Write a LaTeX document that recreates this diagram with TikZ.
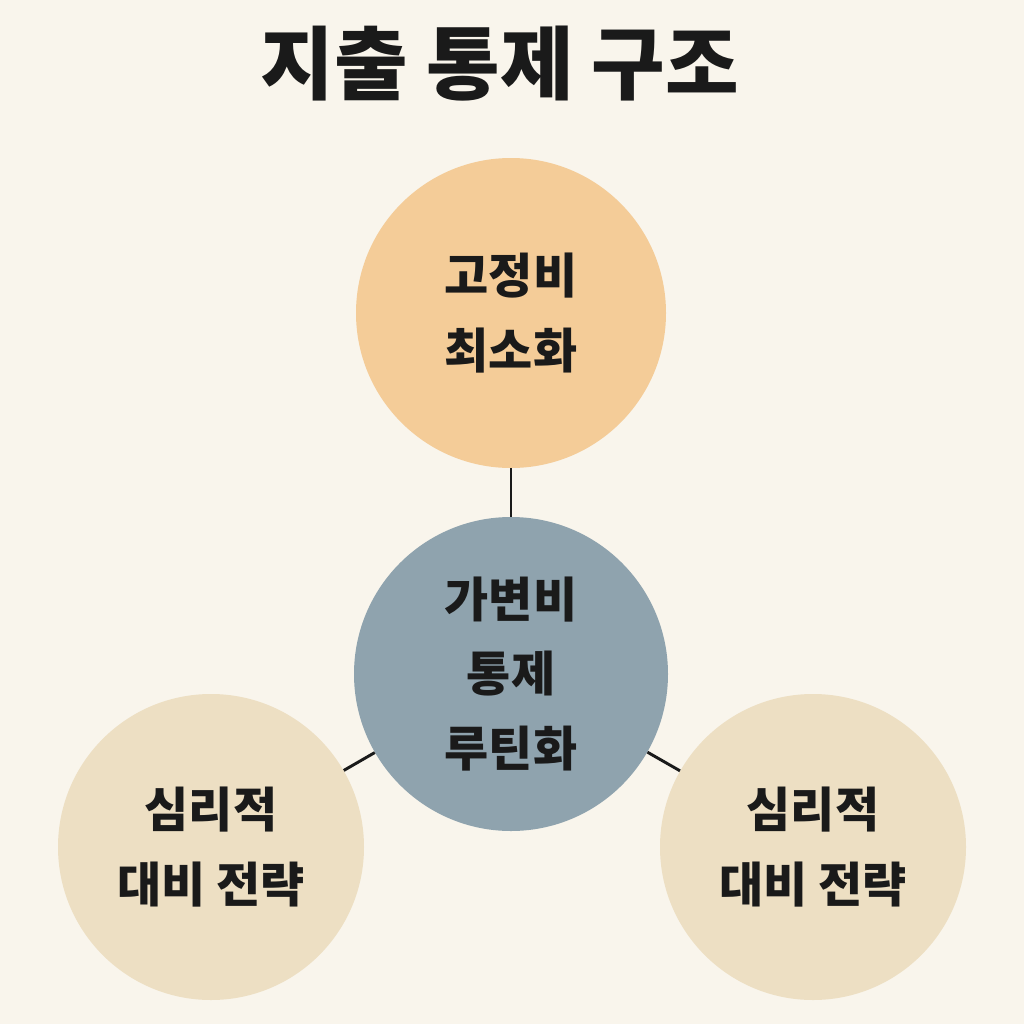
\documentclass[tikz,border=0pt]{standalone}
\usepackage{fontspec}
\newfontfamily\cjk{Noto Sans CJK KR}
\definecolor{bg}{HTML}{F9F5EC}
\definecolor{cTop}{HTML}{F4CC98}
\definecolor{cMid}{HTML}{8FA3AE}
\definecolor{cSide}{HTML}{EDDFC3}
\definecolor{ink}{HTML}{1A1A1A}
\begin{document}
\begin{tikzpicture}[x=0.75pt,y=-0.75pt,
  bubble/.style={circle,inner sep=0pt,align=center,text=ink,
    font=\cjk\bfseries\fontsize{36}{56}\selectfont},
  link/.style={draw=ink,line width=2.2pt}]
\fill[bg] (0,0) rectangle (1024,1024);
\useasboundingbox (0,0) rectangle (1024,1024);
\node[text=ink,font=\cjk\bfseries\fontsize{60}{70}\selectfont] (title) at (500,64) {지출 통제 구조};
\node[bubble,fill=cTop,minimum size=310*0.75pt] (top) at (511,313) {고정비\\최소화};
\node[bubble,fill=cMid,minimum size=314*0.75pt] (mid) at (511,674) {가변비\\통제\\루틴화};
\node[bubble,fill=cSide,minimum size=306*0.75pt] (left) at (211,847) {심리적\\대비 전략};
\node[bubble,fill=cSide,minimum size=306*0.75pt] (right) at (813,847) {심리적\\대비 전략};
\draw[link] (top) -- (mid);
\draw[link] (mid) -- (left);
\draw[link] (mid) -- (right);
\end{tikzpicture}
\end{document}
